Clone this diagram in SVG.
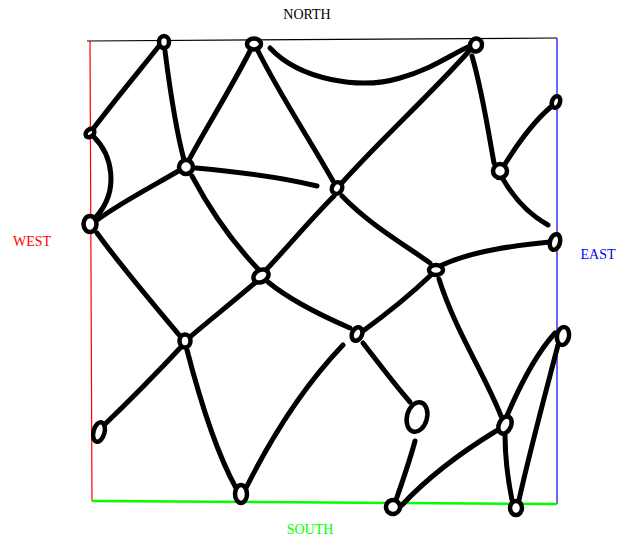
<svg xmlns="http://www.w3.org/2000/svg" width="621" height="538" viewBox="0 0 621 538">
<style>
.e{fill:none;stroke:#000;stroke-width:5;stroke-linecap:round;stroke-linejoin:round}
.n{fill:#fff;stroke:#000;stroke-width:4.5}
.lbl{font-family:"Liberation Serif",serif;font-size:14px;text-anchor:middle}
</style>
<rect width="621" height="538" fill="#fff"/>
<g id="frame">
<line x1="87" y1="41" x2="557" y2="38" stroke="#000" stroke-width="1.2"/>
<line x1="90" y1="41" x2="92" y2="501" stroke="#f00" stroke-width="1.2"/>
<line x1="557" y1="38" x2="557" y2="504" stroke="#00f" stroke-width="1.2"/>
<line x1="92" y1="501" x2="557" y2="504" stroke="#0f0" stroke-width="2.5"/>
</g>
<g id="labels">
<text class="lbl" x="307" y="19" fill="#000">NORTH</text>
<text class="lbl" x="32" y="246" fill="#f00">WEST</text>
<text class="lbl" x="598" y="259" fill="#00f">EAST</text>
<text class="lbl" x="310" y="534" fill="#0f0">SOUTH</text>
</g>
<g id="connectors">
<path class="e" d="M159,46 C140,70 115,100 93,129"/>
<path class="e" d="M165,51 C170,90 176,130 184,160"/>
<path class="e" d="M250,51 C230,90 205,130 189,160"/>
<path class="e" d="M258,51 C280,95 310,140 333,181"/>
<path class="e" d="M270,48 C300,80 360,90 400,78 C430,70 450,55 470,46"/>
<path class="e" d="M470,50 C430,95 380,140 340,185"/>
<path class="e" d="M472,56 C482,90 488,130 494,163"/>
<path class="e" d="M505,164 C520,140 535,120 552,106"/>
<path class="e" d="M503,179 C515,200 530,215 548,225"/>
<path class="e" d="M94,137 C112,155 120,190 96,217"/>
<path class="e" d="M97,220 C125,200 155,185 180,170"/>
<path class="e" d="M196,168 C240,172 285,178 317,186"/>
<path class="e" d="M192,176 C210,210 235,245 259,270"/>
<path class="e" d="M97,233 C120,265 150,300 180,336"/>
<path class="e" d="M334,196 C310,220 285,250 265,271"/>
<path class="e" d="M342,196 C370,225 405,245 430,263"/>
<path class="e" d="M442,265 C475,250 520,245 550,242"/>
<path class="e" d="M256,282 C235,300 210,320 190,337"/>
<path class="e" d="M268,282 C290,300 320,315 350,328"/>
<path class="e" d="M431,275 C410,295 385,315 363,331"/>
<path class="e" d="M439,279 C455,330 485,375 501,416"/>
<path class="e" d="M182,346 C155,375 125,405 101,428"/>
<path class="e" d="M187,350 C200,400 215,450 236,488"/>
<path class="e" d="M343,345 C300,390 270,440 246,488"/>
<path class="e" d="M363,343 C380,365 395,385 410,402"/>
<path class="e" d="M415,441 C410,460 403,480 396,500"/>
<path class="e" d="M402,505 C430,475 465,450 496,431"/>
<path class="e" d="M506,418 C520,385 535,355 555,333"/>
<path class="e" d="M558,345 C545,395 530,450 519,500"/>
<path class="e" d="M505,435 C505,460 508,480 512,500"/>
</g>
<g id="n1"><ellipse class="n" cx="164" cy="42" rx="5" ry="6"/></g>
<g id="n2"><ellipse class="n" cx="254" cy="44" rx="7" ry="5.5"/></g>
<g id="n3"><ellipse class="n" cx="476" cy="45" rx="6" ry="6.5" transform="rotate(20 476 45)"/></g>
<g id="nA"><ellipse class="n" cx="90" cy="133" rx="5" ry="3.5" transform="rotate(-40 90 133)"/></g>
<g id="nB"><ellipse class="n" cx="90" cy="224" rx="6.5" ry="8"/></g>
<g id="nC"><ellipse class="n" cx="186" cy="167" rx="7" ry="7"/></g>
<g id="nD"><ellipse class="n" cx="337" cy="188" rx="5" ry="6" transform="rotate(30 337 188)"/></g>
<g id="nE"><ellipse class="n" cx="500" cy="171" rx="7" ry="7"/></g>
<g id="nF"><ellipse class="n" cx="556" cy="102" rx="4" ry="6" transform="rotate(20 556 102)"/></g>
<g id="nG"><ellipse class="n" cx="555" cy="242" rx="5" ry="8" transform="rotate(15 555 242)"/></g>
<g id="nH"><ellipse class="n" cx="261" cy="276" rx="8" ry="6" transform="rotate(-30 261 276)"/></g>
<g id="nI"><ellipse class="n" cx="436" cy="270" rx="7" ry="5"/></g>
<g id="nJ"><ellipse class="n" cx="185" cy="341" rx="5.5" ry="6.5"/></g>
<g id="nK"><ellipse class="n" cx="357" cy="334" rx="5" ry="7" transform="rotate(25 357 334)"/></g>
<g id="nL"><ellipse class="n" cx="563" cy="336" rx="6" ry="9" transform="rotate(10 563 336)"/></g>
<g id="nM"><ellipse class="n" cx="99" cy="432" rx="5.5" ry="10" transform="rotate(15 99 432)"/></g>
<g id="nO"><ellipse class="n" cx="417" cy="417" rx="10" ry="15" transform="rotate(15 417 417)"/></g>
<g id="nP"><ellipse class="n" cx="505" cy="425" rx="6" ry="9" transform="rotate(25 505 425)"/></g>
<g id="nQ"><ellipse class="n" cx="241" cy="494" rx="6" ry="9"/></g>
<g id="nR"><ellipse class="n" cx="393" cy="507" rx="7" ry="7" transform="rotate(30 393 507)"/></g>
<g id="nS"><ellipse class="n" cx="516" cy="508" rx="6" ry="7"/></g>
</svg>
